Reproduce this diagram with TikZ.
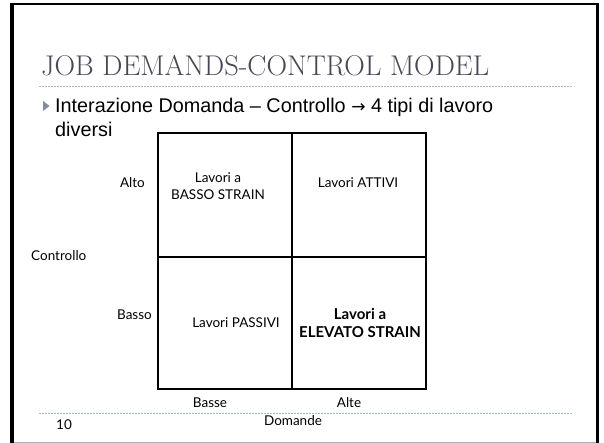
\documentclass[tikz,border=0pt]{standalone}
\usepackage{fontspec}
\newfontfamily\bodyfont{Liberation Sans}
\newfontfamily\arrowfont{DejaVu Sans}
\newfontfamily\gillfont{Lato}
\definecolor{titlegray}{RGB}{72,72,84}
\definecolor{dotblue}{RGB}{165,185,210}
\definecolor{bulletgray}{RGB}{130,140,160}
\definecolor{framegray}{RGB}{175,175,175}
\tikzset{
  dotline/.style={dotblue, line width=1pt, dash pattern=on 1.5pt off 1.5pt},
  gridline/.style={black, line width=2pt},
  celltext/.style={font=\gillfont\fontsize{13.5}{17}\selectfont, align=center, inner sep=0pt},
  axistext/.style={font=\gillfont\fontsize{13.5}{17}\selectfont, inner sep=0pt},
}
\begin{document}
\begin{tikzpicture}[x=1pt,y=-1pt]
\useasboundingbox (0,0) rectangle (604,443);
% frame
\fill[black] (10,2.7) rectangle (14,443);
\fill[black] (10,2.7) rectangle (599,5);
\fill[black] (595.5,2.7) rectangle (599,443);
\fill[framegray] (14,441.6) rectangle (595.5,443);
% title
\node[anchor=base west, inner sep=0pt, text=titlegray, font=\fontsize{28.5}{32}\selectfont] (title) at (41,76) {JOB DEMANDS-CONTROL MODEL};
\draw[dotline] (39,87) -- (573,87);
% bullet
\fill[bulletgray] (43,101) -- (49.5,106) -- (43,111) -- cycle;
\node[anchor=north west, inner sep=0pt, align=left, font=\bodyfont\fontsize{19.8}{23.5}\selectfont] (bullet) at (55,98) {Interazione Domanda – Controllo {\arrowfont\fontsize{17}{20}\selectfont →} 4 tipi di lavoro\\diversi};
% grid
\coordinate (tl) at (158,133);
\coordinate (br) at (426,389);
\coordinate (tm) at (292,133);
\coordinate (bm) at (292,389);
\coordinate (ml) at (158,257);
\coordinate (mr) at (426,257);
\draw[gridline] (tl) rectangle (br);
\draw[gridline] (tm) -- (bm);
\draw[gridline] (ml) -- (mr);
% cell texts
\node[celltext] (c11) at (218,186) {Lavori a\\BASSO STRAIN};
\node[celltext] (c12) at (358,183) {Lavori ATTIVI};
\node[celltext] (c21) at (236,323) {Lavori PASSIVI};
\node[celltext, font=\gillfont\bfseries\fontsize{15}{18}\selectfont] (c22) at (360,323) {Lavori a\\ELEVATO STRAIN};
% axis labels
\node[axistext, anchor=east] (alto) at (145,183) {Alto};
\node[axistext, anchor=east] (basso) at (152,315) {Basso};
\node[axistext, anchor=west] (ctrl) at (31,256) {Controllo};
\node[axistext] (basse) at (210,403) {Basse};
\node[axistext] (alte) at (349,403) {Alte};
\draw[dotline] (39,413) -- (573,413);
\node[axistext] (dom) at (293,421) {Domande};
\node[axistext] (num) at (64,425) {10};
\end{tikzpicture}
\end{document}
